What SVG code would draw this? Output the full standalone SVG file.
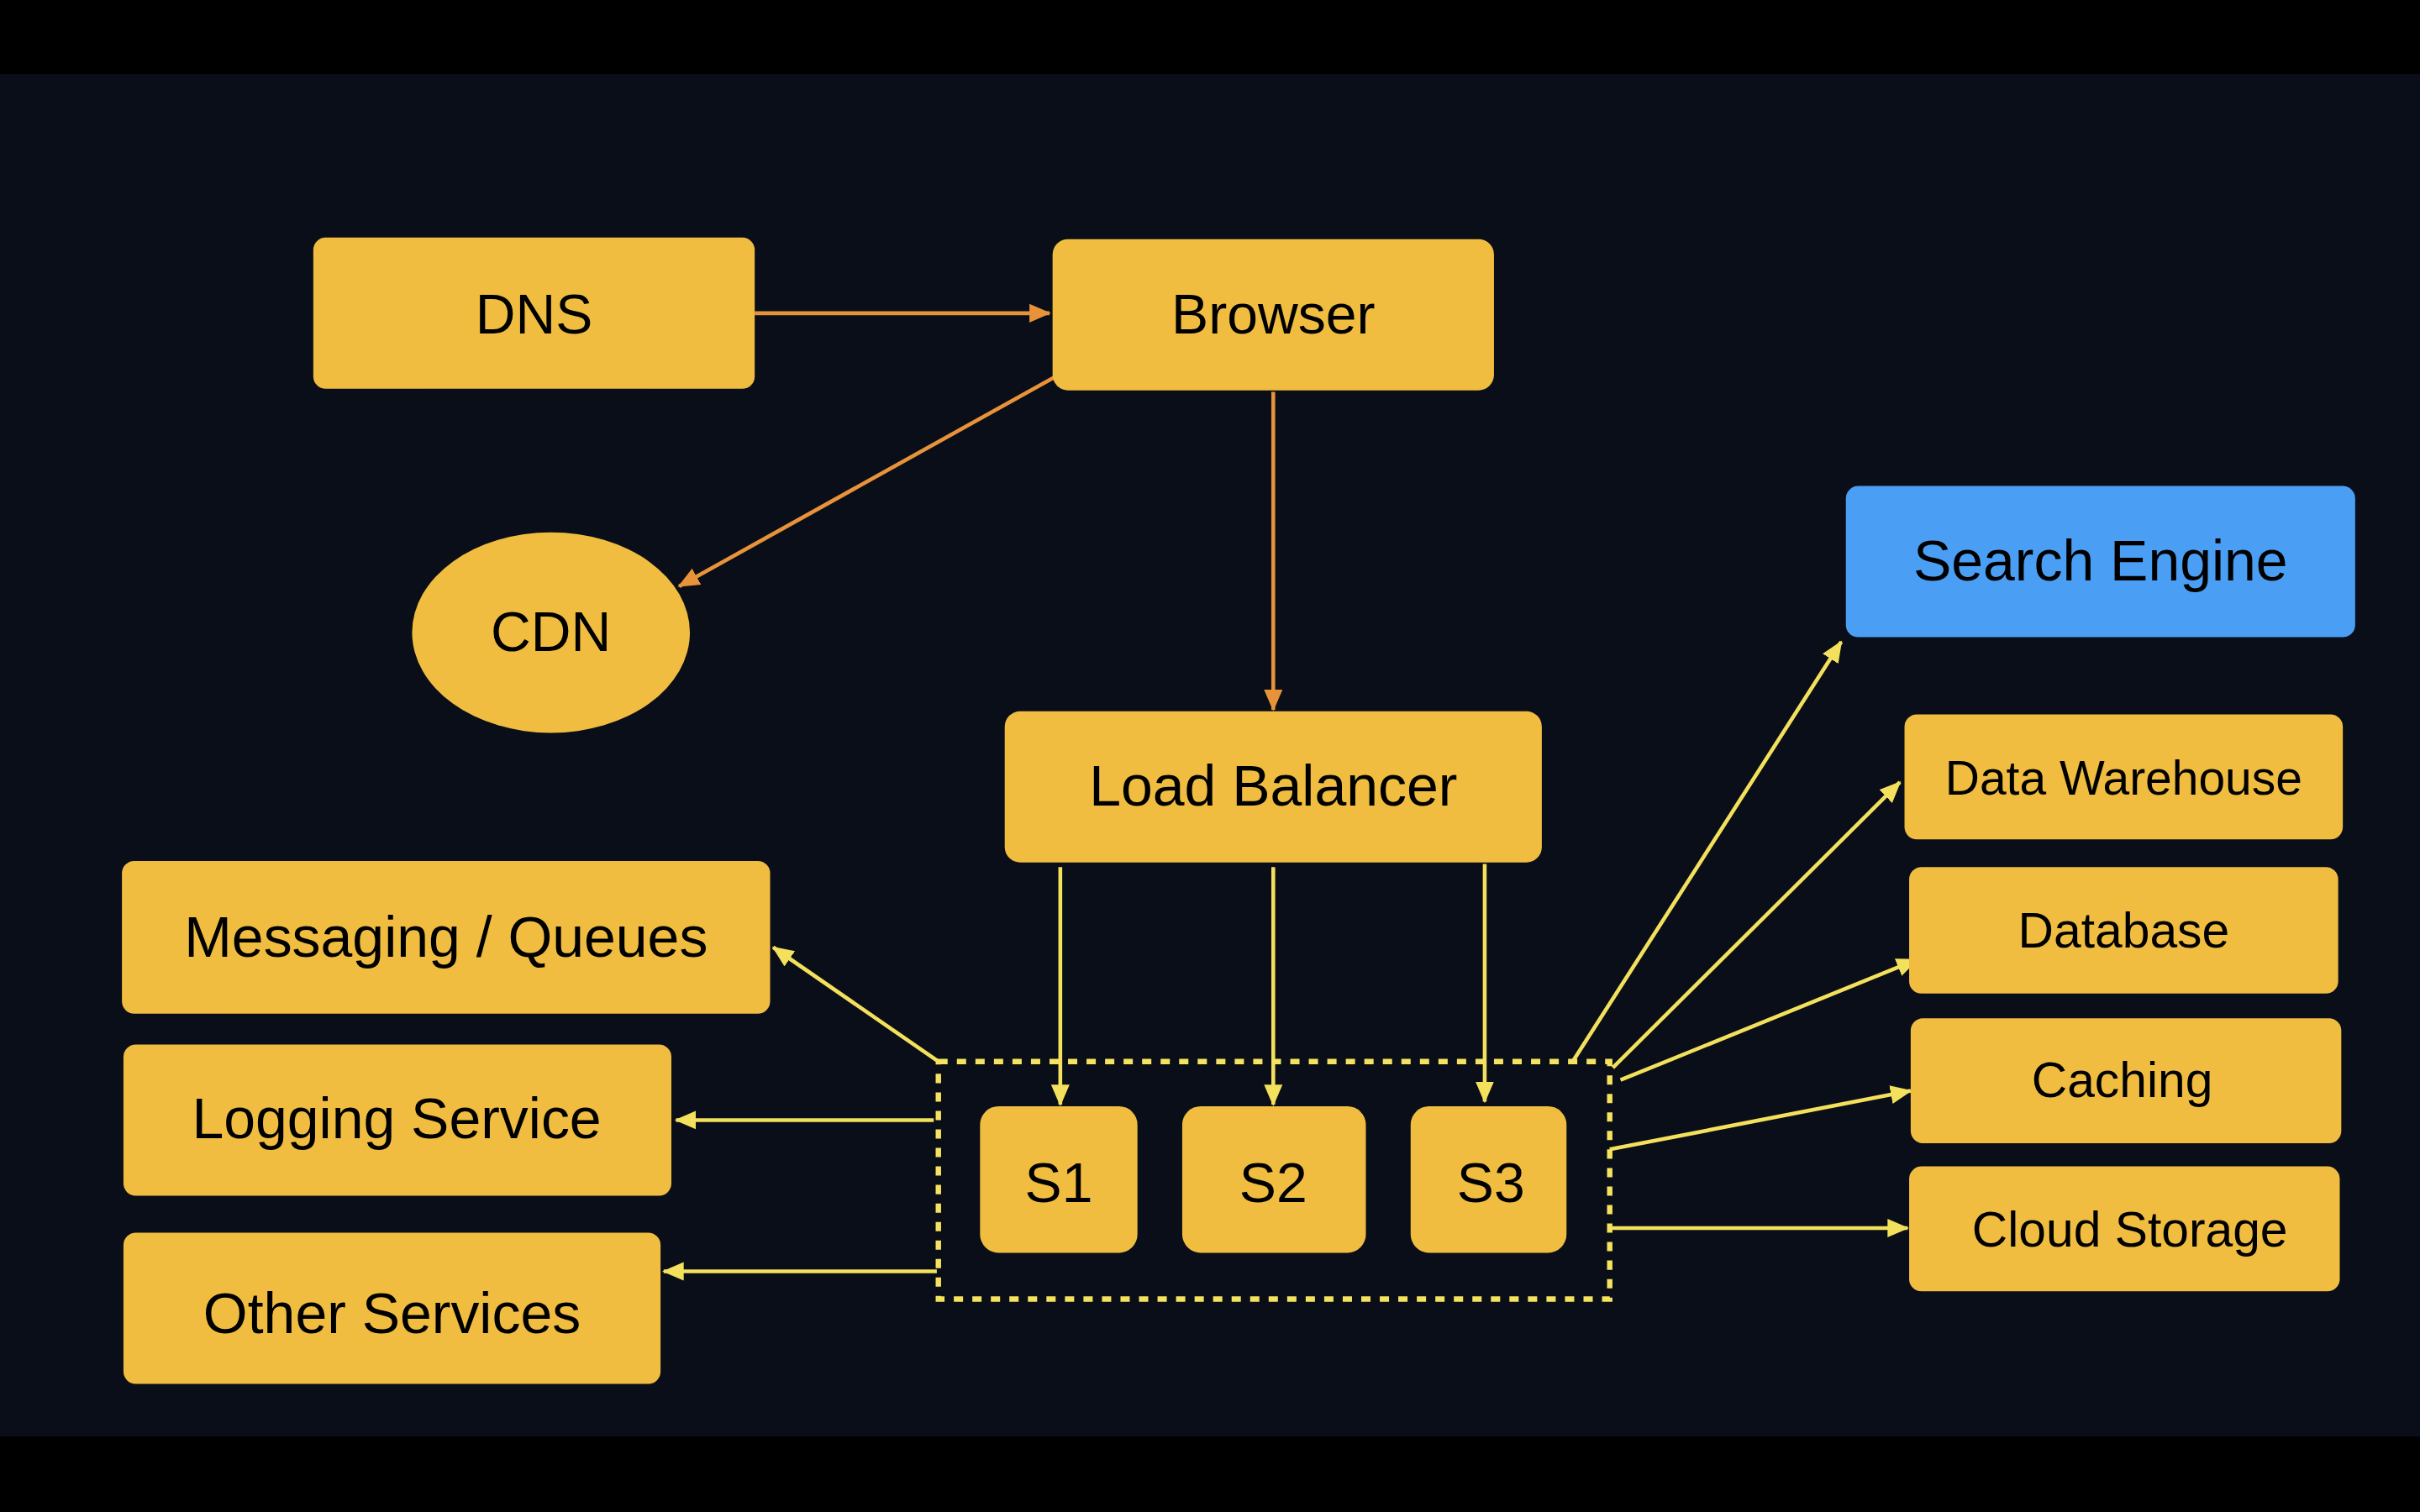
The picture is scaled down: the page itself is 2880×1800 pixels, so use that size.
<svg xmlns="http://www.w3.org/2000/svg" width="2880" height="1800" viewBox="0 0 2880 1800">
<style>
.box{fill:#f0bd41}
.blue{fill:#4a9ff5}
.t{font-family:"Liberation Sans","DejaVu Sans",sans-serif;fill:#000;text-anchor:middle}
.o{stroke:#e8923a;stroke-width:2.5;fill:none}
.y{stroke:#f3e05c;stroke-width:2.5;fill:none}
</style>
<defs>
<marker id="ao" markerUnits="userSpaceOnUse" markerWidth="14" markerHeight="14" viewBox="0 0 14 14" refX="13" refY="7" orient="auto"><path d="M0,1 L14,7 L0,13 Z" fill="#e8923a"/></marker>
<marker id="ay" markerUnits="userSpaceOnUse" markerWidth="14" markerHeight="14" viewBox="0 0 14 14" refX="13" refY="7" orient="auto"><path d="M0,1 L14,7 L0,13 Z" fill="#f3e05c"/></marker>
</defs>
<rect x="0" y="0" width="2880" height="1800" fill="#0a0e18"/>
<rect x="0" y="0" width="2880" height="88" fill="#000"/>
<rect x="0" y="1710" width="2880" height="90" fill="#000"/>
<g transform="scale(1.836735)">
<g id="connectors">
<line class="o" x1="489" y1="203" x2="680" y2="203" marker-end="url(#ao)"/>
<line class="o" x1="684" y1="244" x2="440" y2="380" marker-end="url(#ao)"/>
<line class="o" x1="825" y1="254" x2="825" y2="460" marker-end="url(#ao)"/>
<line class="y" x1="687" y1="562" x2="687" y2="716" marker-end="url(#ay)"/>
<line class="y" x1="825" y1="562" x2="825" y2="716" marker-end="url(#ay)"/>
<line class="y" x1="962" y1="560" x2="962" y2="714" marker-end="url(#ay)"/>
<line class="y" x1="608" y1="688" x2="501" y2="614" marker-end="url(#ay)"/>
<line class="y" x1="605" y1="726" x2="438" y2="726" marker-end="url(#ay)"/>
<line class="y" x1="607" y1="824" x2="430" y2="824" marker-end="url(#ay)"/>
<line class="y" x1="1019" y1="688" x2="1193" y2="416" marker-end="url(#ay)"/>
<line class="y" x1="1045" y1="692" x2="1231" y2="507" marker-end="url(#ay)"/>
<line class="y" x1="1050" y1="700" x2="1242" y2="622" marker-end="url(#ay)"/>
<line class="y" x1="1043" y1="745" x2="1238" y2="707" marker-end="url(#ay)"/>
<line class="y" x1="1043" y1="796" x2="1236" y2="796" marker-end="url(#ay)"/>
</g>
<g id="server-group"><rect x="608" y="688" width="435" height="154" fill="none" stroke="#f5e25e" stroke-width="3.5" stroke-dasharray="6 6"/></g>
<g id="dns"><rect class="box" x="203" y="154" width="286" height="98" rx="8"/><text class="t" x="346" y="216" font-size="36">DNS</text></g>
<g id="browser"><rect class="box" x="682" y="155" width="286" height="98" rx="10"/><text class="t" x="825" y="216" font-size="36">Browser</text></g>
<g id="cdn"><ellipse class="box" cx="357" cy="410" rx="90" ry="65"/><text class="t" x="357" y="422" font-size="36">CDN</text></g>
<g id="load-balancer"><rect class="box" x="651" y="461" width="348" height="98" rx="10"/><text class="t" x="825" y="522" font-size="37">Load Balancer</text></g>
<g id="search-engine"><rect class="blue" x="1196" y="315" width="330" height="98" rx="8"/><text class="t" x="1361" y="376" font-size="37">Search Engine</text></g>
<g id="data-warehouse"><rect class="box" x="1234" y="463" width="284" height="81" rx="8"/><text class="t" x="1376" y="515" font-size="31">Data Warehouse</text></g>
<g id="database"><rect class="box" x="1237" y="562" width="278" height="82" rx="8"/><text class="t" x="1376" y="614" font-size="32">Database</text></g>
<g id="caching"><rect class="box" x="1238" y="660" width="279" height="81" rx="8"/><text class="t" x="1375" y="711" font-size="32">Caching</text></g>
<g id="cloud-storage"><rect class="box" x="1237" y="756" width="279" height="81" rx="8"/><text class="t" x="1380" y="808" font-size="32">Cloud Storage</text></g>
<g id="messaging"><rect class="box" x="79" y="558" width="420" height="99" rx="8"/><text class="t" x="289" y="620" font-size="37">Messaging / Queues</text></g>
<g id="logging"><rect class="box" x="80" y="677" width="355" height="98" rx="8"/><text class="t" x="257" y="738" font-size="37">Logging Service</text></g>
<g id="other-services"><rect class="box" x="80" y="799" width="348" height="98" rx="8"/><text class="t" x="254" y="864" font-size="37">Other Services</text></g>
<g id="s1"><rect class="box" x="635" y="717" width="102" height="95" rx="12"/><text class="t" x="686" y="779" font-size="36">S1</text></g>
<g id="s2"><rect class="box" x="766" y="717" width="119" height="95" rx="12"/><text class="t" x="825" y="779" font-size="36">S2</text></g>
<g id="s3"><rect class="box" x="914" y="717" width="101" height="95" rx="12"/><text class="t" x="966" y="779" font-size="36">S3</text></g>
</g>
</svg>
